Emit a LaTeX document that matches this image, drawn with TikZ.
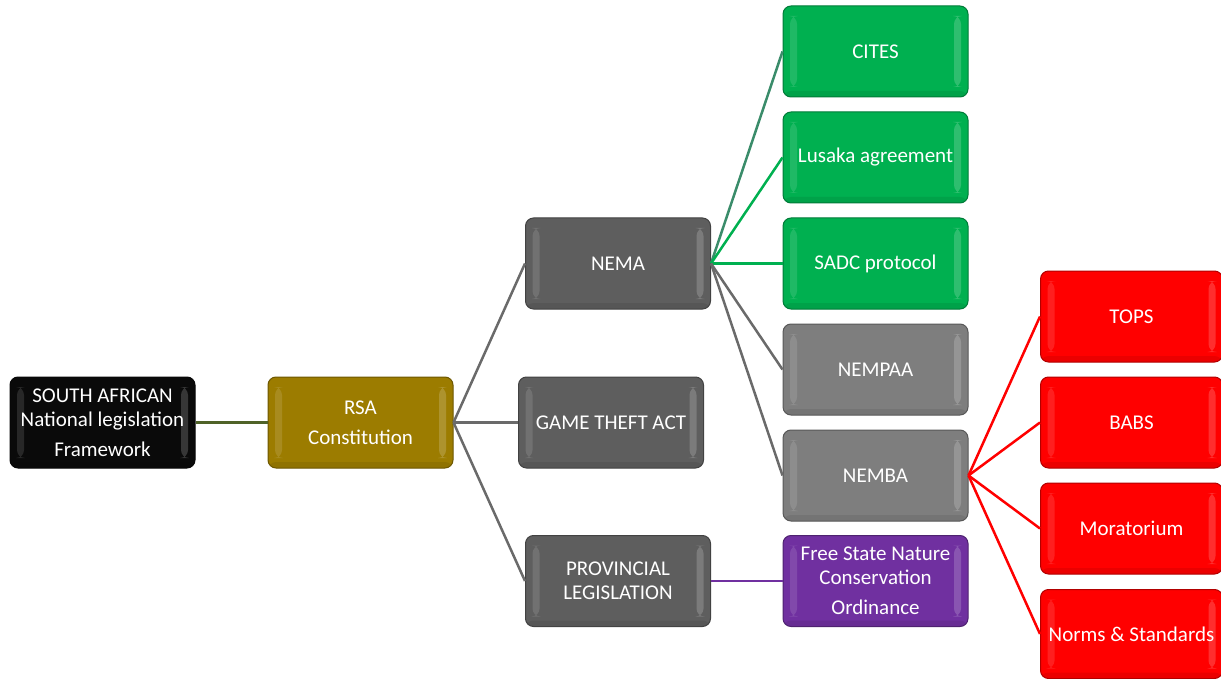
\documentclass[tikz,border=0pt]{standalone}
\usepackage{fontspec}
\setmainfont{Carlito}
\definecolor{cblack}{HTML}{0A0A0A}
\definecolor{colive}{HTML}{9C7C00}
\definecolor{cgray}{HTML}{5E5E5E}
\definecolor{clgray}{HTML}{7E7E7E}
\definecolor{cgreen}{HTML}{00B050}
\definecolor{cred}{HTML}{FF0000}
\definecolor{cpurple}{HTML}{7030A0}
\definecolor{lgreen}{HTML}{00B050}
\definecolor{lteal}{HTML}{3A8C6A}
\definecolor{lgray}{HTML}{6A6A6A}
\definecolor{lolive}{HTML}{4F6228}
\begin{document}
\begin{tikzpicture}[x=1pt,y=-1pt,
  box/.style={rounded corners=8pt, minimum width=185pt, minimum height=91pt,
    inner sep=0pt, align=center, text=white,
    font=\fontsize{21}{24}\selectfont, fill=#1, draw=#1!70!black, line width=1pt,
    path picture={
      \fill[white,opacity=0.12] ([xshift=7pt,yshift=-10pt]path picture bounding box.north west) rectangle ([xshift=14pt,yshift=10pt]path picture bounding box.south west);
      \fill[white,opacity=0.18] ([xshift=-14pt,yshift=-10pt]path picture bounding box.north east) rectangle ([xshift=-7pt,yshift=10pt]path picture bounding box.south east);
      \fill[black,opacity=0.08] ([yshift=6pt]path picture bounding box.south west) rectangle (path picture bounding box.south east);
    }},
  link/.style={line width=2.5pt, draw=#1}
]
\useasboundingbox (0,0) rectangle (1221,679);

\node[box=cblack] (saf) at (102.5,422.5) {SOUTH AFRICAN\\National legislation\\[6pt]Framework};
\node[box=colive] (rsa) at (360.5,422.5) {RSA\\[6pt]Constitution};
\node[box=cgray] (nema) at (618,263.5) {NEMA};
\node[box=cgray] (gta) at (611,422.5) {GAME THEFT ACT};
\node[box=cgray] (prov) at (618,581) {PROVINCIAL\\LEGISLATION};
\node[box=cgreen] (cites) at (875.5,51.5) {CITES};
\node[box=cgreen] (lus) at (875.5,157.5) {Lusaka agreement};
\node[box=cgreen] (sadc) at (875.5,263.5) {SADC protocol};
\node[box=clgray] (nempaa) at (875.5,369.5) {NEMPAA};
\node[box=clgray] (nemba) at (875.5,475.5) {NEMBA};
\node[box=cpurple] (fs) at (875.5,581) {Free State Nature\\Conservation\\[6pt]Ordinance};
\node[box=cred, minimum width=182pt] (tops) at (1131.5,316.5) {TOPS};
\node[box=cred, minimum width=182pt] (babs) at (1131.5,422.5) {BABS};
\node[box=cred, minimum width=182pt] (mor) at (1131.5,528.5) {Moratorium};
\node[box=cred, minimum width=182pt, minimum height=89pt] (norms) at (1131.5,634) {Norms \& Standards};

\draw[link=lolive] (saf.east) -- (rsa.west);
\draw[link=lgray] (rsa.east) -- (nema.west);
\draw[link=lgray] (rsa.east) -- (gta.west);
\draw[link=lgray] (rsa.east) -- (prov.west);
\draw[link=lteal] (nema.east) -- (cites.west);
\draw[link=lgreen] (nema.east) -- (lus.west);
\draw[link=lgreen] (nema.east) -- (sadc.west);
\draw[link=lgray] (nema.east) -- (nempaa.west);
\draw[link=lgray] (nema.east) -- (nemba.west);
\draw[link=cpurple] (prov.east) -- (fs.west);
\draw[link=cred] (nemba.east) -- (tops.west);
\draw[link=cred] (nemba.east) -- (babs.west);
\draw[link=cred] (nemba.east) -- (mor.west);
\draw[link=cred] (nemba.east) -- (norms.west);
\end{tikzpicture}
\end{document}
